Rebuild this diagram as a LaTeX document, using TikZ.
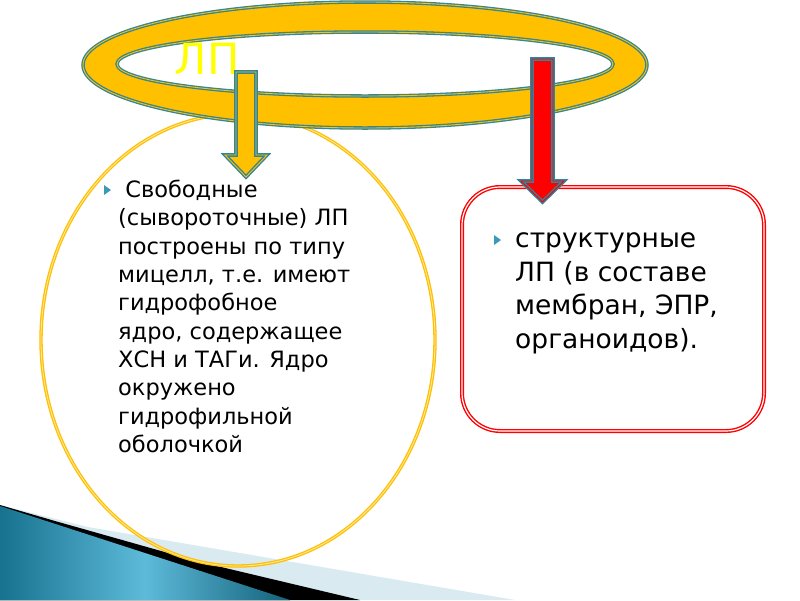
\documentclass[tikz,border=0pt]{standalone}
\usepackage{fontspec}
\setmainfont{DejaVu Sans}
\usetikzlibrary{calc}

\definecolor{gold}{HTML}{FFC000}
\definecolor{tealline}{HTML}{31859C}
\definecolor{seablue}{HTML}{17728F}
\definecolor{skyblue}{HTML}{5DBAD9}
\definecolor{paleblue}{HTML}{DAEAF1}
\definecolor{bulletblue}{HTML}{3A9AB8}
\definecolor{lpyellow}{HTML}{FFFF00}

\tikzset{
  ringline/.style={draw=tealline, line width=1.3pt, double=gold, double distance=0.9pt},
  goldarrow/.style={fill=gold, draw=tealline, line width=1.4pt, double=gold, double distance=0.9pt},
  redarrow/.style={fill=red, draw=tealline, line width=1.4pt, double=red, double distance=0.9pt},
  freeline/.style={draw=gold, line width=1.3pt, double=gold!35, double distance=0.8pt},
  structline/.style={draw=red, line width=1.4pt, double=white, double distance=1.2pt, rounded corners=38pt},
  bodytext/.style={anchor=north west, align=left, inner sep=0pt, text=black}
}

\begin{document}
\begin{tikzpicture}[x=1pt,y=-1pt]
\useasboundingbox (0,0) rectangle (800,600);

% corner wedge
\fill[paleblue] (88,527) -- (515,600) -- (0,600) -- (0,505) -- cycle;
\fill[black] (55,521) -- (200,562) -- (360,600) -- (0,600) -- (0,505) -- cycle;
\fill[left color=seablue, right color=seablue!85!black, middle color=skyblue] (0,506) -- (290,600) -- (0,600) -- cycle;

% free LP
\draw[freeline] (238,340) ellipse [x radius=197pt, y radius=226pt];
\fill[bulletblue] (104,185) -- (111,190) -- (104,195) -- cycle;
\node[bodytext, font={\fontsize{22.5}{28.3}\selectfont}] (freeText) at (118,180)
  {\ Свободные\\(сывороточные) ЛП\\построены по типу\\мицелл, т.е. имеют\\гидрофобное\\ядро, содержащее\\ХСН и ТАГи. Ядро\\окружено\\гидрофильной\\оболочкой};

% structural LP
\draw[structline] (462,187) rectangle (764,431);
\fill[bulletblue] (494,235) -- (501,240) -- (494,245) -- cycle;
\node[bodytext, font={\fontsize{26.5}{33.7}\selectfont}] (structText) at (515,232.5)
  {структурные\\ЛП (в составе\\мембран, ЭПР,\\органоидов).};

% ring
\fill[gold, even odd rule] (365,65) ellipse [x radius=282pt, y radius=63pt]
  (365,64) ellipse [x radius=248pt, y radius=32pt];
\draw[ringline] (365,65) ellipse [x radius=282pt, y radius=63pt];
\draw[ringline] (365,64) ellipse [x radius=248pt, y radius=32pt];

\node[text=lpyellow, font={\fontsize{43}{43}\selectfont}, inner sep=0pt] (lpTitle) at (207,59) {ЛП};

% arrows
\draw[goldarrow] (236,72) -- (256,72) -- (256,155) -- (267,155) -- (246,177)
  -- (225,155) -- (236,155) -- cycle;
\draw[redarrow] (532,59) -- (553,59) -- (553,181) -- (564,181) -- (542.5,202)
  -- (521,181) -- (532,181) -- cycle;

\end{tikzpicture}
\end{document}
